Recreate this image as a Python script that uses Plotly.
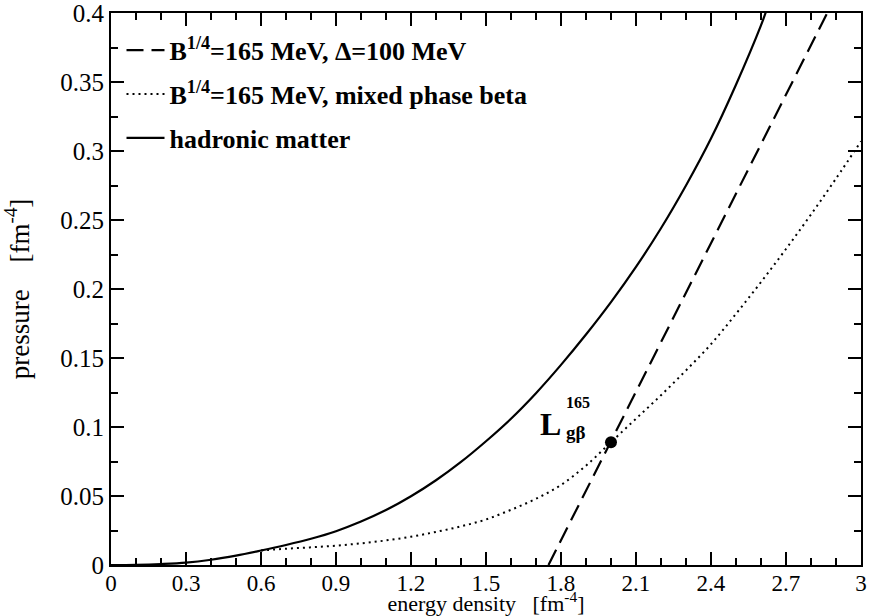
import plotly.graph_objects as go

# hadronic matter (solid)
had_x = [0.0, 0.1, 0.2, 0.3, 0.4, 0.5, 0.6, 0.7, 0.8, 0.9, 1.0, 1.1, 1.2, 1.3, 1.4, 1.5,
         1.6, 1.7, 1.8, 1.9, 2.0, 2.1, 2.2, 2.3, 2.4, 2.5, 2.6, 2.62]
had_y = [0.0, 0.00015, 0.0007, 0.0017, 0.0038, 0.0068, 0.0105, 0.0145, 0.019, 0.0245,
         0.0315, 0.0398, 0.0498, 0.0614, 0.0747, 0.0897, 0.1060, 0.1245, 0.1450, 0.1670,
         0.1905, 0.2160, 0.2440, 0.2750, 0.3090, 0.3480, 0.3910, 0.4010]
# dashed line: B^1/4=165 MeV, Delta=100 MeV
dash_x = [1.75, 2.865]
dash_y = [0.0, 0.4]
# dotted: mixed phase beta
dot_x = [0.6, 0.7, 0.8, 0.9, 1.0, 1.1, 1.2, 1.3, 1.4, 1.5, 1.6, 1.7, 1.8, 1.9, 2.0,
         2.1, 2.2, 2.3, 2.4, 2.5, 2.6, 2.7, 2.8, 2.9, 3.0]
dot_y = [0.0105, 0.0118, 0.0128, 0.014, 0.0157, 0.0178, 0.0205, 0.024, 0.028, 0.033,
         0.040, 0.048, 0.058, 0.072, 0.089, 0.106, 0.123, 0.141, 0.160, 0.182, 0.205,
         0.229, 0.254, 0.280, 0.307]
# marked point L_gβ^165
pt_x = [2.0]
pt_y = [0.089]

x_ticks = [0, 0.3, 0.6, 0.9, 1.2, 1.5, 1.8, 2.1, 2.4, 2.7, 3]
x_labels = ["0", "0.3", "0.6", "0.9", "1.2", "1.5", "1.8", "2.1", "2.4", "2.7", "3"]
y_ticks = [0, 0.05, 0.1, 0.15, 0.2, 0.25, 0.3, 0.35, 0.4]
y_labels = ["0", "0.05", "0.1", "0.15", "0.2", "0.25", "0.3", "0.35", "0.4"]

FONT = "Liberation Serif, Times New Roman, serif"

fig = go.Figure()
fig.add_trace(go.Scatter(x=dash_x, y=dash_y, mode="lines", legendgroup="a",
                         line=dict(color="black", width=2.2, dash="17px,8px"),
                         name="<b>B<sup>1/4</sup>=165 MeV, Δ=100 MeV</b>"))
fig.add_trace(go.Scatter(x=dot_x, y=dot_y, mode="lines", line_shape="spline", legendgroup="b",
                         line=dict(color="black", width=2, dash="2px,4px"),
                         name="<b>B<sup>1/4</sup>=165 MeV, mixed phase beta</b>"))
fig.add_trace(go.Scatter(x=had_x, y=had_y, mode="lines", line_shape="spline", legendgroup="c",
                         line=dict(color="black", width=2.2),
                         name="<b>hadronic matter</b>"))
fig.add_trace(go.Scatter(x=pt_x, y=pt_y, mode="markers",
                         marker=dict(color="black", size=12), showlegend=False))

fig.add_annotation(x=pt_x[0], y=pt_y[0], xref="x", yref="y", text="<b>L</b>",
                   showarrow=False, xanchor="center", yanchor="middle",
                   xshift=-60, yshift=18, font=dict(family=FONT, size=32, color="black"))
fig.add_annotation(x=pt_x[0], y=pt_y[0], xref="x", yref="y", text="<b>165</b>",
                   showarrow=False, xanchor="left", yanchor="middle",
                   xshift=-47, yshift=40, font=dict(family=FONT, size=16, color="black"))
fig.add_annotation(x=pt_x[0], y=pt_y[0], xref="x", yref="y", text="<b>gβ</b>",
                   showarrow=False, xanchor="left", yanchor="middle",
                   xshift=-47, yshift=10, font=dict(family=FONT, size=19, color="black"))

axis_common = dict(showgrid=False, zeroline=False, showline=True, linecolor="black",
                   linewidth=2, mirror="allticks", ticks="inside", ticklen=13,
                   tickwidth=1.5, tickcolor="black", ticklabeloverflow="allow",
                   automargin=False)

fig.update_xaxes(range=[0, 3.0001], tickvals=x_ticks, ticktext=x_labels,
                 ticklabelstandoff=-4,
                 tickfont=dict(family=FONT, size=23, color="black"),
                 minor=dict(dtick=0.1, ticklen=7, ticks="inside", tickcolor="black", tickwidth=1.5),
                 title=dict(text="energy density   [fm<sup>-4</sup>]",
                            font=dict(family=FONT, size=22, color="black"), standoff=2),
                 **axis_common)
fig.update_yaxes(range=[0, 0.40001], tickvals=y_ticks, ticktext=y_labels,
                 tickfont=dict(family=FONT, size=25, color="black"),
                 minor=dict(dtick=0.025, ticklen=7, ticks="inside", tickcolor="black", tickwidth=1.5),
                 title=dict(text="pressure    [fm<sup>-4</sup>]",
                            font=dict(family=FONT, size=27, color="black"), standoff=23),
                 **axis_common)

fig.update_layout(width=870, height=616, paper_bgcolor="white", plot_bgcolor="white",
                  margin=dict(l=111, r=9, t=13, b=51),
                  showlegend=True,
                  legend=dict(x=0.014, y=0.975, xanchor="left", yanchor="top",
                              bgcolor="rgba(0,0,0,0)", borderwidth=0, itemwidth=38,
                              font=dict(family=FONT, size=26, color="black"),
                              tracegroupgap=7))

fig.write_html("out.html")
